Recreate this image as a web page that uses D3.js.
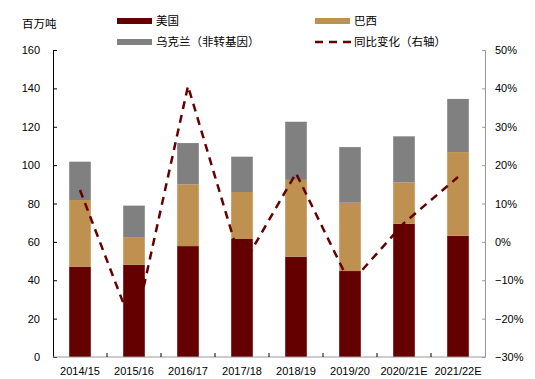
<!DOCTYPE html>
<html><head><meta charset="utf-8">
<script src="https://cdn.jsdelivr.net/npm/d3@7"></script>
<style>body{margin:0;background:#fff}text{font-family:"Liberation Sans",Arial,"Noto Sans CJK SC",sans-serif}</style>
</head><body>
<svg id="c" width="535" height="379"></svg>
<script>
const categories = ["2014/15","2015/16","2016/17","2017/18","2018/19","2019/20","2020/21E","2021/22E"];
const usa = [47.1, 48.0, 57.8, 61.5, 52.3, 44.8, 69.5, 63.2];
const brazil = [34.7, 14.5, 32.2, 24.5, 40.0, 35.6, 21.5, 43.6];
const ukraine = [20.0, 16.4, 21.5, 18.4, 30.3, 29.0, 24.0, 27.7];
const yoy = [13.5, -23.2, 40.6, -6.5, 17.9, -10.9, 4.9, 16.9];
const leftTicks = [0,20,40,60,80,100,120,140,160];
const rightTicks = [-30,-20,-10,0,10,20,30,40,50];
const seriesNames = ["美国","巴西","乌克兰（非转基因）","同比变化（右轴）"];
const colors = ["#650000","#BF9150","#808080","#650000"];

const svg = d3.select("#c");
const L = 53, R = 485, T = 50, B = 357;
const x = d3.scaleBand().domain(categories).range([L, R]).paddingInner(0.6).paddingOuter(0.3);
const xb = d3.scaleBand().domain(categories).range([L, R]);
const y = d3.scaleLinear().domain([0,160]).range([B, T]);
const y2 = d3.scaleLinear().domain([-30,50]).range([B, T]);

const stackData = categories.map((c,i)=>({cat:c, usa:usa[i], brazil:brazil[i], ukraine:ukraine[i]}));
const stack = d3.stack().keys(["usa","brazil","ukraine"])(stackData);
stack.forEach((s,k)=>{
  svg.append("g").selectAll("rect").data(s).join("rect")
    .attr("x", d=>x(d.data.cat)).attr("width", x.bandwidth())
    .attr("y", d=>y(d[1])).attr("height", d=>y(d[0])-y(d[1]))
    .attr("fill", colors[k]);
});

// line
const line = d3.line().x((d,i)=>xb(categories[i])+xb.bandwidth()/2).y(d=>y2(d));
svg.append("path").datum(yoy).attr("d", line).attr("fill","none")
  .attr("stroke", colors[3]).attr("stroke-width", 2.5).attr("stroke-dasharray","8,6");

// left axis
const la = svg.append("g").attr("transform",`translate(${L},0)`)
  .call(d3.axisLeft(y).tickValues(leftTicks).tickSize(-4).tickPadding(13));
la.select(".domain").attr("stroke","#000");
la.selectAll(".tick line").attr("stroke","#000");
la.selectAll("text").attr("font-size",11).attr("fill","#000");

// right axis
const ra = svg.append("g").attr("transform",`translate(${R},0)`)
  .call(d3.axisRight(y2).tickValues(rightTicks).tickSize(-3).tickPadding(10).tickFormat(d=>(d<0?"\u2212"+(-d):d)+"%"));
ra.select(".domain").attr("stroke","#999");
ra.selectAll(".tick line").attr("stroke","#999");
ra.selectAll("text").attr("font-size",11).attr("fill","#000");

// bottom axis
const ba = svg.append("g").attr("transform",`translate(0,${B})`);
ba.append("line").attr("x1",L).attr("x2",R).attr("y1",0).attr("y2",0).attr("stroke","#999");
ba.selectAll("line.t").data(categories.slice(1)).join("line").attr("class","t")
  .attr("x1",d=>xb(d)).attr("x2",d=>xb(d)).attr("y1",0).attr("y2",-4).attr("stroke","#000");
ba.selectAll("text").data(categories).join("text")
  .attr("x",d=>xb(d)+xb.bandwidth()/2).attr("y",18).attr("text-anchor","middle")
  .attr("font-size",11).attr("fill","#000").text(d=>d);

// unit label
svg.append("text").attr("x",22).attr("y",28).attr("font-size",11.5).text("百万吨");

// legend
const leg = [
  {x:117,y:21,k:0},{x:315,y:21,k:1},{x:117,y:42,k:2},{x:315,y:42,k:3}
];
leg.forEach(l=>{
  if(l.k<3){
    svg.append("rect").attr("x",l.x).attr("y",l.y-3).attr("width",35).attr("height",6).attr("fill",colors[l.k]);
  } else {
    svg.append("line").attr("x1",l.x).attr("x2",l.x+36).attr("y1",l.y).attr("y2",l.y)
      .attr("stroke",colors[3]).attr("stroke-width",2.5).attr("stroke-dasharray","8,6");
  }
  svg.append("text").attr("x",l.x+39).attr("y",l.y+4).attr("font-size",11.5).text(seriesNames[l.k]);
});
</script>
</body></html>
